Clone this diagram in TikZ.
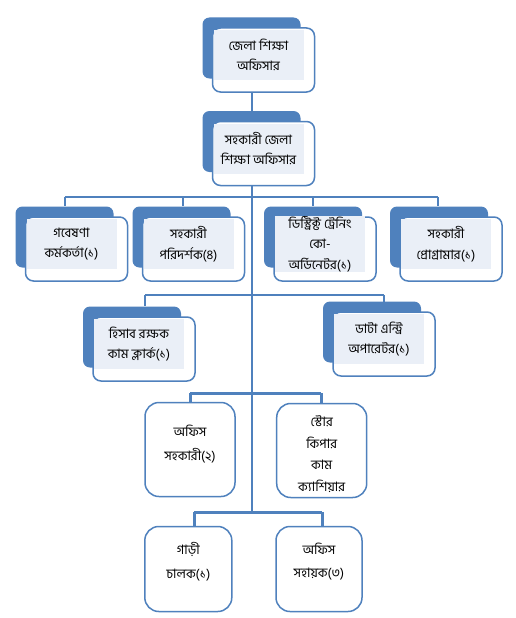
\documentclass[tikz,border=0pt]{standalone}
\usepackage{fontspec}
\newfontfamily\bn[Script=Bengali]{Hind Siliguri}
\definecolor{acc}{RGB}{79,129,189}
\definecolor{lite}{RGB}{234,239,247}
\newcommand\upbox[4]{% name, x, y, text
  \node[backbox] (#1-b) at (#2-12,#3-12) {};
  \node[frontbox] (#1) at (#2,#3) {};
  \node[txtfill] (#1-t) at (#2-5,#3-5) {#4};
}
\begin{document}
\begin{tikzpicture}[x=1pt,y=-1pt,
  backbox/.style={fill=acc, rounded corners=7pt, minimum width=98pt, minimum height=61pt, inner sep=0pt},
  frontbox/.style={draw=acc, line width=1.5pt, fill=white, rounded corners=8pt, minimum width=102pt, minimum height=64pt, inner sep=0pt},
  txtfill/.style={fill=lite, minimum width=90pt, minimum height=50pt, inner sep=0pt, align=center, font=\bn\fontsize{13}{20.5}\selectfont},
  lowbox/.style={draw=acc, line width=1.5pt, fill=white, rounded corners=14pt, minimum width=90pt, minimum height=94pt, inner sep=0pt},
  lowtext/.style={inner sep=0pt, align=center, font=\bn\fontsize{13}{23.5}\selectfont},
  bus/.style={draw=acc, line width=2pt},
  busb/.style={draw=acc, line width=3pt}]
\useasboundingbox[fill=white] (0,0) rectangle (515,618);
% coordinates of the buses
\coordinate (main) at (252,80);
\coordinate (mainend) at (252,512);
\coordinate (b1l) at (65,197);
\coordinate (b1r) at (438,197);
\coordinate (b2l) at (145,295);
\coordinate (b2r) at (384,295);
\coordinate (b3l) at (190,393);
\coordinate (b3r) at (321,393);
\coordinate (b4l) at (194,512);
\coordinate (b4r) at (322,512);
\draw[bus] (main) -- (mainend);
\draw[bus] (b1l) -- (b1r);
\draw[bus] (b2l) -- (b2r);
\draw[busb] (b3l) -- (b3r);
\draw[busb] (b4l) -- (b4r);
% boxes
\upbox{top}{263.5}{60}{জেলা শিক্ষা\\অফিসার}
\upbox{sec}{263.5}{153.5}{সহকারী জেলা\\শিক্ষা অফিসার}
% drops drawn before the boxes
\draw[bus] (b1l) -- (65,206);
\draw[bus] (183,197) -- (183,206);
\draw[bus] (313,197) -- (313,206);
\draw[bus] (b1r) -- (438,206);
\draw[bus] (b2l) -- (145,306);
\draw[bus] (b2r) -- (384,306);
\upbox{ra}{76.5}{249}{গবেষণা\\কর্মকর্তা(১)}
\upbox{rb}{193.5}{249}{সহকারী\\পরিদর্শক(৪)}
\upbox{rc}{325}{249}{ডিস্ট্রিক্ট ট্রেনিং\\কো-\\অর্ডিনেটর(১)}
\upbox{rd}{451}{249}{সহকারী\\প্রোগ্রামার(১)}
\upbox{hs}{144}{349}{হিসাব রক্ষক\\কাম ক্লার্ক(১)}
\upbox{dt}{384}{344}{ডাটা এন্ট্রি\\অপারেটর(১)}
\node[lowbox] (os) at (190,449.5) {};
\node[lowtext] at (190,444) {অফিস\\সহকারী(২)};
\node[lowbox] (st) at (321.7,450.5) {};
\node[lowtext, font=\bn\fontsize{13}{21.5}\selectfont] at (321.7,454) {স্টোর\\কিপার\\কাম\\ক্যাশিয়ার};
\node[lowbox, minimum width=87pt, minimum height=85pt] (gc) at (188.3,569) {};
\node[lowtext] at (188.3,561.5) {গাড়ী\\চালক(১)};
\node[lowbox, minimum width=86pt, minimum height=85pt] (oh) at (319,569) {};
\node[lowtext] at (319,561.5) {অফিস\\সহায়ক(৩)};
\draw[busb] (b3l) -- (b3l |- os.north);
\draw[busb] (b3r) -- (b3r |- st.north);
\draw[busb] (b4l) -- (b4l |- gc.north);
\draw[busb] (b4r) -- (b4r |- oh.north);
\end{tikzpicture}
\end{document}
